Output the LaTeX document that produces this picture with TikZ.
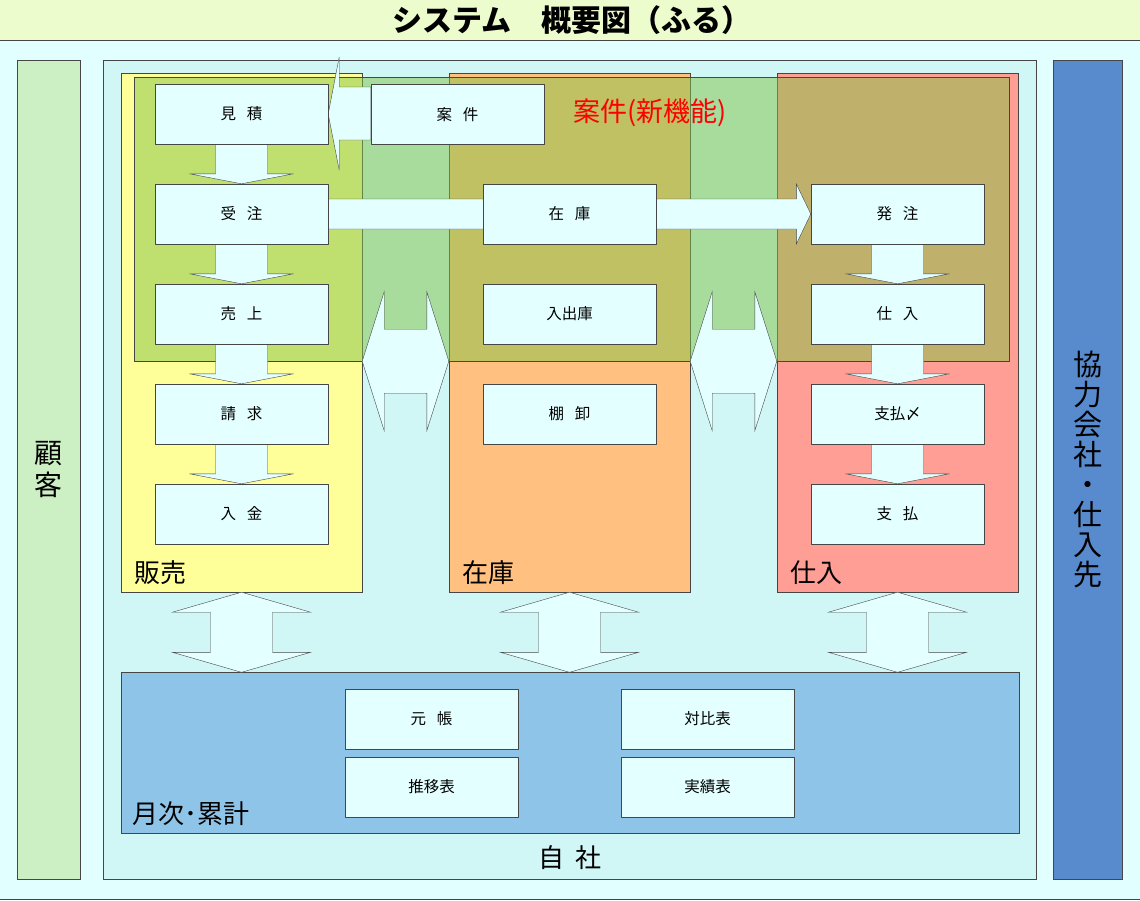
\documentclass[tikz,border=0pt]{standalone}
\usepackage{fontspec}
\setmainfont{Noto Sans CJK JP}
\usetikzlibrary{calc}
\definecolor{bgcyan}{RGB}{226,255,255}
\definecolor{boxcyan}{RGB}{228,255,255}
\definecolor{jishaC}{RGB}{208,246,246}
\definecolor{titleC}{RGB}{236,252,204}
\definecolor{kokyakuC}{RGB}{204,240,196}
\definecolor{kyoryokuC}{RGB}{88,138,206}
\definecolor{hanbaiC}{RGB}{255,255,153}
\definecolor{zaikoC}{RGB}{255,192,128}
\definecolor{shiireC}{RGB}{255,158,148}
\definecolor{getsujiC}{RGB}{142,196,232}
\definecolor{ankenC}{RGB}{128,195,70}
\definecolor{edge}{RGB}{70,70,70}
\newcommand\jsp{\hspace{0.7em}}
\pgfdeclarelayer{bg}
\pgfdeclarelayer{arw}
\pgfsetlayers{bg,arw,main}
\begin{document}
\begin{tikzpicture}[x=1pt,y=-1pt,line join=round,
	box/.style={draw=edge,fill=boxcyan,minimum width=173,minimum height=60,inner sep=0,font=\fontsize{15.5}{18}\selectfont},
	area/.style={draw=edge,inner sep=0,minimum width=241,minimum height=519},
	side/.style={draw=edge,inner sep=0,minimum height=819,align=center},
	barrow/.style={draw=edge,fill=boxcyan},
	seclabel/.style={anchor=west,inner sep=0,font=\fontsize{26}{28}\selectfont}]
	\useasboundingbox (0,0) rectangle (1140,900);
	\begin{pgfonlayer}{bg}
		\fill[bgcyan] (0,0) rectangle (1140,900);
		\fill[titleC] (0,0) rectangle (1140,40);
		\draw[edge] (0,40)--(1140,40) (0,899)--(1140,899);
		\node[font=\bfseries\fontsize{30}{30}\selectfont] (title) at (572,20) {システム　概要図（ふる）};
		% outside parties and own company
		\node[side,fill=kokyakuC,minimum width=63,font=\fontsize{28}{32}\selectfont] (kokyaku) at (48.5,469.5) {顧\\客};
		\node[side,fill=kyoryokuC,minimum width=69,font=\fontsize{29}{30}\selectfont] (kyoryoku) at (1087.5,469.5) {協\\力\\会\\社\\・\\仕\\入\\先};
		\node[side,fill=jishaC,minimum width=933] (jisha) at (570,469.5) {};
		\node[font=\fontsize{26}{28}\selectfont] (jishalbl) at ($(jisha.south)+(0,-22)$) {自\hspace{0.4em}社};
		% sections
		\node[area,fill=hanbaiC] (hanbai) at (241.5,332.5) {};
		\node[area,fill=zaikoC] (zaiko) at (569.5,332.5) {};
		\node[area,fill=shiireC] (shiireA) at (897.5,332.5) {};
		\foreach \a/\t in {hanbai/販売,zaiko/在庫,shiireA/仕入}
			\node[seclabel] (\a lbl) at ($(\a.south west)+(13,-20)$) {\t};
		\node[draw=edge,fill=ankenC,fill opacity=.5,inner sep=0,minimum width=874.5,minimum height=284] (ankenA) at (571.75,219) {};
		\node[anchor=west,inner sep=0,text=red,font=\fontsize{27}{28}\selectfont] (ankenlbl) at (573,113) {案件(新機能)};
		\node[draw=edge,fill=getsujiC,inner sep=0,minimum width=898,minimum height=160.5] (getsuji) at (570,752.75) {};
		\node[seclabel] (getsujilbl) at ($(getsuji.south west)+(11,-20)$) {月次･累計};
	\end{pgfonlayer}
	% boxes
	\foreach \n/\t [count=\i] in {mitsu/見\jsp 積,juchu/受\jsp 注,uriage/売\jsp 上,seikyu/請\jsp 求,nyukin/入\jsp 金}
		\node[box] (\n) at (241.5,14+100*\i) {\t};
	\foreach \n/\t [count=\i] in {zaikoB/在\jsp 庫,nyushukko/入出庫,tanaoroshi/棚\jsp 卸}
		\node[box] (\n) at (569.5,114+100*\i) {\t};
	\foreach \n/\t [count=\i] in {hatchu/発\jsp 注,shiire/仕\jsp 入,shime/支払〆,shiharai/支\jsp 払}
		\node[box] (\n) at (897.5,114+100*\i) {\t};
	\node[box] (anken) at (457.5,114.5) {案\jsp 件};
	\node[box] (motocho) at (431.5,719) {元\jsp 帳};
	\node[box] (suii) at (431.5,787) {推移表};
	\node[box] (taihi) at (707.5,719) {対比表};
	\node[box] (jisseki) at (707.5,787) {実績表};
	% block arrows
	\begin{pgfonlayer}{arw}
		\foreach \a/\b in {mitsu/juchu,juchu/uriage,uriage/seikyu,seikyu/nyukin,hatchu/shiire,shiire/shime,shime/shiharai}
			\draw[barrow] ($(\a.south)+(-26,0)$)--($(\b.north)+(-26,-10)$)--++(-26,0)--(\b.north)--++(52,-10)--++(-26,0)--($(\a.south)+(26,0)$)--cycle;
		\draw[barrow] (mitsu.east)--++(11,-57)--++(0,30)--($(anken.west)+(0,-27.5)$)--++(0,53)--($(mitsu.east)+(11,26)$)--++(0,30)--cycle;
		\draw[barrow] ($(juchu.east)+(0,-15)$)--($(hatchu.west)+(-14.5,-15)$)--++(0,-15)--(hatchu.west)--++(-14.5,30)--++(0,-15)--($(juchu.east)+(0,15)$)--cycle;
		\foreach \a/\b in {hanbai/zaiko,zaiko/shiireA}{
			\coordinate (l) at (\a.east |- ankenA.south);
			\coordinate (r) at (\b.west |- ankenA.south);
			\draw[barrow] (l)--++(22,-69.5)--++(0,37.5)--($(r)+(-22,-32)$)--++(0,-37.5)--(r)--++(-22,69.5)--++(0,-37.5)--($(l)+(22,32)$)--++(0,37.5)--cycle;
		}
		\foreach \a in {hanbai,zaiko,shiireA}{
			\coordinate (t) at (\a.south);
			\coordinate (b) at (\a.south |- getsuji.north);
			\draw[barrow] (t)--++(69,20)--++(-38,0)--($(b)+(31,-20)$)--++(38,0)--(b)--++(-69,-20)--++(38,0)--($(t)+(-31,20)$)--++(-38,0)--cycle;
		}
	\end{pgfonlayer}
\end{tikzpicture}
\end{document}
